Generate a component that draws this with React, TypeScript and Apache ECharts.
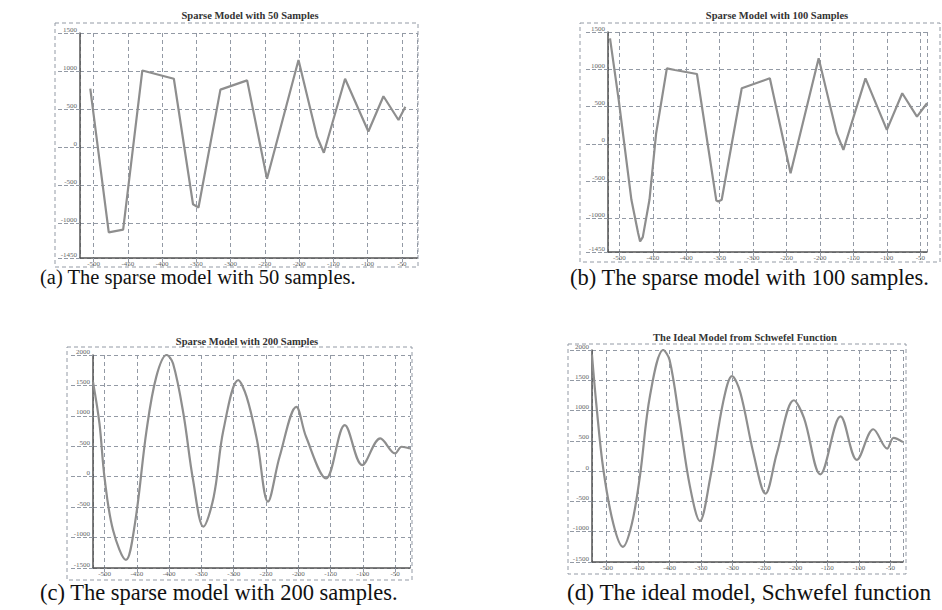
import React, { useEffect, useRef } from "react";
import * as echarts from "echarts";

// ---- Data ----
// (a) sparse model, 50 samples
const xA = [-505, -478, -457, -429, -383, -355, -347, -315, -276, -247, -201, -174, -164, -133, -99, -77, -55, -45];
const yA = [770, -1113, -1078, 1009, 900, -745, -788, 758, 879, -411, 1147, 143, -70, 900, 208, 671, 359, 532];
// (b) sparse model, 100 samples
const xB = [-514, -501, -482, -472, -469, -465, -455, -445, -429, -417, -384, -355, -352, -347, -317, -275, -244, -202, -175, -165, -132, -100, -77, -55, -40];
const yB = [1415, 589, -750, -1196, -1308, -1250, -750, 143, 1013, 991, 937, -760, -772, -750, 745, 879, -393, 1147, 143, -80, 879, 188, 679, 366, 545];
// (c) sparse model, 200 samples
const xC = [-518, -508, -500, -487, -467, -453, -435, -420, -404, -394, -378, -363, -347, -331, -316, -293, -280, -264, -247, -229, -203, -188, -157, -128, -101, -73, -50, -40, -27];
const yC = [1559, 875, -27, -875, -1368, -766, 766, 1641, 2000, 1860, 1039, -55, -821, -328, 766, 1586, 1313, 602, -410, 328, 1149, 656, -27, 848, 191, 629, 383, 492, 465];
// (d) ideal model, Schwefel function
const xD = [-523, -516, -505, -489, -474, -460, -447, -431, -410, -400, -384, -368, -352, -336, -315, -301, -288, -267, -248, -230, -203, -187, -161, -129, -103, -77, -55, -45, -30];
const yD = [1915, 1090, 27, -878, -1250, -878, -80, 1250, 2000, 1835, 824, -239, -824, -133, 1144, 1569, 1303, 293, -372, 293, 1170, 878, -53, 904, 186, 692, 372, 548, 479];

const titles = [
  "Sparse Model with 50 Samples",
  "Sparse Model with 100 Samples",
  "Sparse Model with 200 Samples",
  "The Ideal Model from Schwefel Function",
];
const captions = [
  "(a) The sparse model with 50 samples.",
  "(b) The sparse model with 100 samples.",
  "(c) The sparse model with 200 samples.",
  "(d) The ideal model, Schwefel function",
];
const xRanges = [[-520, -28], [-517, -40], [-518, -27], [-523, -30]];
const yRanges = [[-1450, 1500], [-1450, 1500], [-1500, 2000], [-1500, 2000]];

// layout (pixels)
const grids = [
  { left: 80, top: 33, width: 337, height: 225 },
  { left: 608, top: 32, width: 319, height: 220 },
  { left: 93, top: 355, width: 317, height: 213 },
  { left: 592, top: 350, width: 311, height: 212 },
];
const frames = [
  { x: 55, y: 23, w: 363, h: 244 },
  { x: 580, y: 23, w: 360, h: 239 },
  { x: 67, y: 347, w: 345, h: 233 },
  { x: 568, y: 344, w: 338, h: 230 },
];
const titlePos = [
  { x: 250, y: 15 },
  { x: 777, y: 15 },
  { x: 247, y: 341 },
  { x: 745, y: 337 },
];
const captionPos = [
  { x: 40, y: 277, size: 20.5 },
  { x: 570, y: 277, size: 22.5 },
  { x: 40, y: 592, size: 22.5 },
  { x: 567, y: 592, size: 23.2 },
];

const GRID_COLOR = "#939aa5";
const LINE_COLOR = "#8e8e8e";

export default function App() {
  const ref = useRef<HTMLDivElement>(null);
  useEffect(() => {
    if (!ref.current) return;
    const chart = echarts.init(ref.current, null, { renderer: "svg" });
    const xs = [xA, xB, xC, xD];
    const ys = [yA, yB, yC, yD];
    const option: any = {
      animation: false,
      backgroundColor: "#ffffff",
      grid: grids.map((g) => ({ ...g, containLabel: false })),
      xAxis: grids.map((_, i) => ({
        type: "value",
        gridIndex: i,
        min: xRanges[i][0],
        max: xRanges[i][1],
        splitNumber: 10,
        axisLine: { show: true, onZero: false, lineStyle: { color: "#555", width: 1.5 } },
        axisTick: { show: true, length: 8, lineStyle: { color: GRID_COLOR, type: "dashed" } },
        axisLabel: {
          fontSize: 7,
          color: "#666",
          margin: 2,
          fontFamily: "Liberation Serif",
          showMinLabel: false,
          showMaxLabel: false,
          formatter: (v: number) => String(v),
        },
        splitLine: { show: true, lineStyle: { color: GRID_COLOR, type: [4, 3], width: 1 } },
      })),
      yAxis: grids.map((_, i) => ({
        type: "value",
        gridIndex: i,
        min: yRanges[i][0],
        max: yRanges[i][1],
        splitNumber: 6,
        axisLine: { show: true, onZero: false, lineStyle: { color: "#555", width: 1.5 } },
        axisTick: { show: true, length: 24, lineStyle: { color: GRID_COLOR, type: "dashed" } },
        axisLabel: {
          fontSize: 7,
          color: "#666",
          margin: 3,
          fontFamily: "Liberation Serif",
          verticalAlign: "bottom",
          formatter: (v: number) => String(v),
        },
        splitLine: { show: true, lineStyle: { color: GRID_COLOR, type: [4, 3], width: 1 } },
      })),
      series: xs.map((xv, i) => ({
        type: "line",
        xAxisIndex: i,
        yAxisIndex: i,
        data: xv.map((x, j) => [x, ys[i][j]]),
        showSymbol: false,
        smooth: i >= 2 ? 0.35 : false,
        lineStyle: { color: LINE_COLOR, width: 2.2 },
        clip: true,
      })),
      graphic: [
        ...frames.map((f) => ({
          type: "rect",
          shape: { x: f.x, y: f.y, width: f.w, height: f.h },
          style: { fill: "none", stroke: GRID_COLOR, lineWidth: 1, lineDash: [4, 3] },
          silent: true,
        })),
        ...titles.map((t, i) => ({
          type: "text",
          x: titlePos[i].x,
          y: titlePos[i].y,
          style: {
            text: t,
            fontSize: 10.5,
            fontWeight: "bold",
            fontFamily: "Liberation Serif",
            fill: "#333",
            textAlign: "center",
            textVerticalAlign: "middle",
          },
        })),
        ...captions.map((t, i) => ({
          type: "text",
          x: captionPos[i].x,
          y: captionPos[i].y,
          style: {
            text: t,
            fontSize: captionPos[i].size,
            fontFamily: "Liberation Serif",
            fill: "#111",
            textAlign: "left",
            textVerticalAlign: "middle",
          },
        })),
      ],
    };
    chart.setOption(option);
    return () => chart.dispose();
  }, []);
  return (
    <div
      ref={ref}
      style={{ position: "fixed", left: 0, top: 0, width: 942, height: 610, background: "#fff" }}
    />
  );
}
